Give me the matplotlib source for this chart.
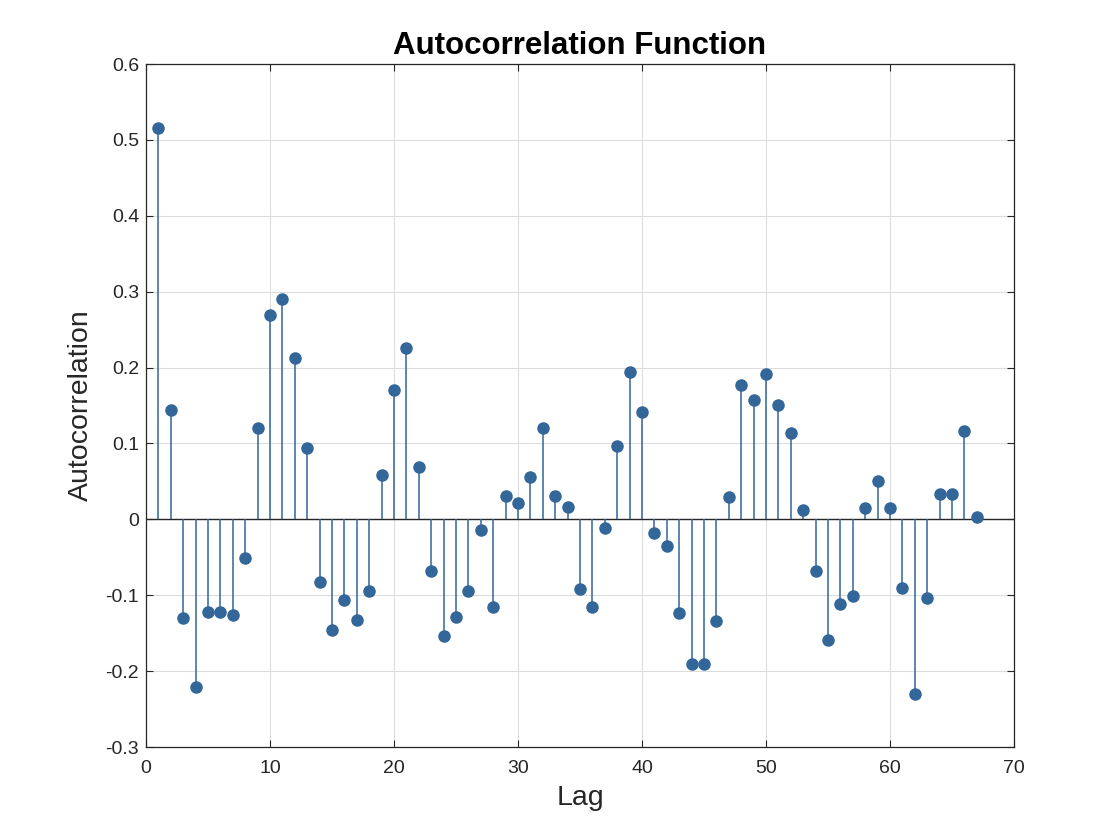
import matplotlib
matplotlib.use("Agg")
import matplotlib.pyplot as plt
import numpy as np
from matplotlib import font_manager

lags = list(range(1, 68))
acf = [0.516, 0.144, -0.130, -0.221, -0.122, -0.122, -0.126, -0.051, 0.120, 0.269,
       0.290, 0.212, 0.094, -0.082, -0.146, -0.106, -0.133, -0.095, 0.058, 0.171,
       0.226, 0.069, -0.068, -0.154, -0.129, -0.094, -0.014, -0.115, 0.031, 0.021,
       0.056, 0.121, 0.031, 0.016, -0.092, -0.115, -0.012, 0.096, 0.194, 0.141,
       -0.018, -0.035, -0.123, -0.191, -0.190, -0.134, 0.029, 0.177, 0.157, 0.191,
       0.151, 0.114, 0.012, -0.068, -0.159, -0.111, -0.101, 0.015, 0.050, 0.015,
       -0.090, -0.230, -0.103, 0.033, 0.034, 0.117, 0.003]
xticks = [0, 10, 20, 30, 40, 50, 60, 70]
yticks = [-0.3, -0.2, -0.1, 0, 0.1, 0.2, 0.3, 0.4, 0.5, 0.6]
ytick_labels = ["-0.3", "-0.2", "-0.1", "0", "0.1", "0.2", "0.3", "0.4", "0.5", "0.6"]

names = {f.name for f in font_manager.fontManager.ttflist}
title_font = "Liberation Sans Narrow" if "Liberation Sans Narrow" in names else "Liberation Sans"
plt.rcParams['font.family'] = ['Liberation Sans', 'DejaVu Sans']

fig = plt.figure(figsize=(11.2, 8.4), dpi=100)
ax = fig.add_axes([0.1304, 0.1107, 0.7750, 0.8131])

color = "#336699"
ax.vlines(lags, 0, acf, color=color, linewidth=1.1, zorder=3)
ax.plot(lags, acf, 'o', color=color, markersize=8, zorder=4)
ax.axhline(0, color='#262626', linewidth=1.0, zorder=2)

ax.set_xlim(0, 70)
ax.set_ylim(-0.3, 0.6)
ax.set_xticks(xticks)
ax.set_yticks(yticks)
ax.set_yticklabels(ytick_labels)
ax.grid(True, color='#dcdcdc', linewidth=0.8, zorder=0)
ax.set_axisbelow(True)
ax.tick_params(direction='in', length=5, width=0.8, top=True, right=True,
               labelsize=14, colors='#262626')
ax.tick_params(axis='x', pad=9)
ax.tick_params(axis='y', pad=5)
for s in ax.spines.values():
    s.set_color('#262626')
    s.set_linewidth(0.9)

ax.set_xlabel("Lag", fontsize=20.5, color='#262626', labelpad=6)
ax.set_ylabel("Autocorrelation", fontsize=20.5, color='#262626', labelpad=8)
ax.set_title("Autocorrelation Function", fontsize=22.5, fontweight='bold',
             family=[title_font, 'DejaVu Sans'], pad=7)

fig.savefig("out.png", dpi=100, facecolor='white')
